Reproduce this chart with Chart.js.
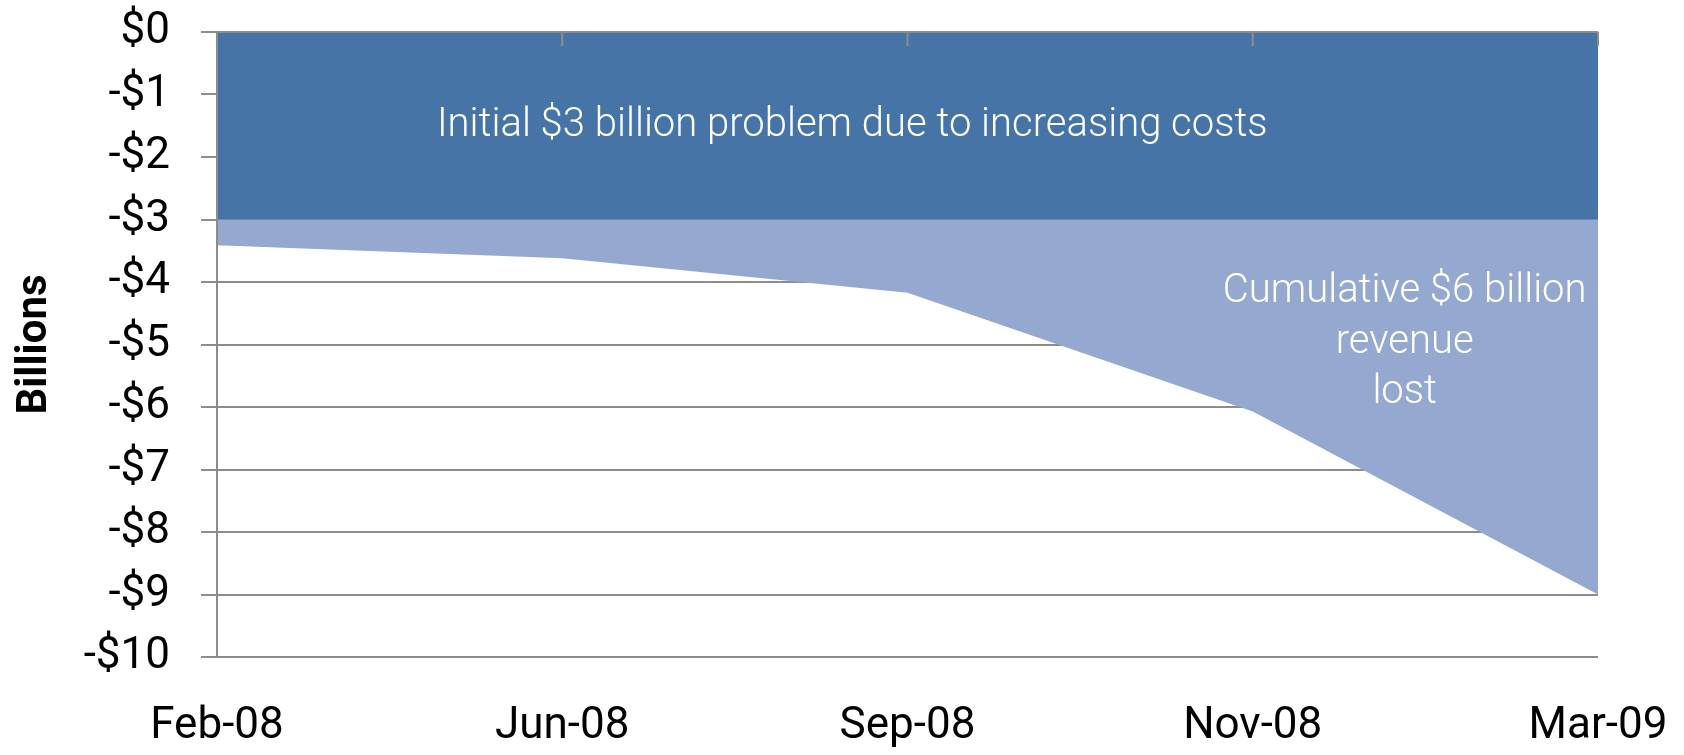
<!DOCTYPE html>
<html lang="en">
<head>
<meta charset="UTF-8">
<title>Budget problem</title>
<script src="https://cdn.jsdelivr.net/npm/chart.js"></script>
<style>
  html, body { margin: 0; padding: 0; background: #fff; }
  #wrap { width: 1684px; height: 755px; }
</style>
</head>
<body>
<div id="wrap"><canvas id="grafico"></canvas></div>

<script>
  // dados (bilhoes)
  var meses = ['Feb-08', 'Jun-08', 'Sep-08', 'Nov-08', 'Mar-09'];
  var problemaInicial = [-3, -3, -3, -3, -3];
  var receitaPerdida = [-0.41, -0.62, -1.17, -3.07, -6.0];
  var rotulosY = ['$0', '-$1', '-$2', '-$3', '-$4', '-$5', '-$6', '-$7', '-$8', '-$9', '-$10'];
  var textoCustos = ['Initial $3 billion problem due to increasing costs'];
  var textoReceita = ['Cumulative $6 billion', 'revenue', 'lost'];

  var cinza = '#8c8c8c';

  // linha do eixo no topo, marquinhas e textos
  var extras = {
    id: 'extras',
    afterDatasetsDraw: function (chart) {
      var ctx = chart.ctx;
      var x = chart.scales.x;
      var y = chart.scales.y;
      var area = chart.chartArea;
      var topo = y.getPixelForValue(0);

      ctx.save();
      ctx.strokeStyle = cinza;
      ctx.lineWidth = 2;
      ctx.beginPath();
      ctx.moveTo(area.left - 16, topo);
      ctx.lineTo(area.right, topo);
      ctx.moveTo(area.left, topo);
      ctx.lineTo(area.left, area.bottom);
      for (var i = 1; i < meses.length; i++) {
        var px = x.getPixelForValue(i);
        ctx.moveTo(px, topo);
        ctx.lineTo(px, topo + 14);
      }
      ctx.stroke();

      ctx.fillStyle = '#ffffff';
      ctx.font = '300 40px Roboto';
      ctx.textAlign = 'center';
      ctx.textBaseline = 'middle';
      ctx.fillText(textoCustos[0], x.getPixelForValue(1.84), y.getPixelForValue(-1.5));

      var cx = x.getPixelForValue(3.44);
      for (var j = 0; j < textoReceita.length; j++) {
        ctx.fillText(textoReceita[j], cx, y.getPixelForValue(-4.16 - j * 0.81));
      }
      ctx.restore();
    }
  };

  var config = {
    type: 'line',
    data: {
      labels: meses,
      datasets: [{
        label: 'Initial problem',
        data: problemaInicial,
        backgroundColor: '#4674a7',
        borderWidth: 0,
        pointRadius: 0,
        fill: 'origin'
      }, {
        label: 'Revenue lost',
        data: receitaPerdida,
        backgroundColor: '#95a9d0',
        borderWidth: 0,
        pointRadius: 0,
        fill: '-1'
      }]
    },
    options: {
      responsive: true,
      maintainAspectRatio: false,
      animation: false,
      layout: { padding: { top: 32, right: 86, bottom: 0, left: 0 } },
      plugins: {
        legend: { display: false },
        tooltip: { enabled: false }
      },
      scales: {
        x: {
          stacked: true,
          offset: false,
          afterFit: function (s) {
            s.height = 98;
            s.paddingLeft = 0;
            s.paddingRight = 0;
          },
          grid: { display: false, drawTicks: false },
          border: { display: false },
          ticks: {
            padding: 44,
            color: '#000',
            maxRotation: 0,
            autoSkip: false,
            font: { family: 'Roboto', size: 44 }
          }
        },
        y: {
          stacked: true,
          min: -10,
          max: 0,
          afterFit: function (s) {
            s.width = 217;
            s.paddingTop = 0;
            s.paddingBottom = 0;
          },
          grid: { color: cinza, lineWidth: 2, tickLength: 16 },
          border: { color: cinza, width: 2 },
          ticks: {
            stepSize: 1,
            padding: 31,
            autoSkip: false,
            color: '#000',
            font: { family: 'Roboto', size: 44 },
            callback: function (v) { return rotulosY[-v]; }
          },
          title: {
            display: true,
            text: 'Billions',
            color: '#000',
            font: { family: 'Roboto', size: 42, weight: 'bold' },
            padding: { top: 10, bottom: 0 }
          }
        }
      }
    },
    plugins: [extras]
  };

  new Chart(document.getElementById('grafico'), config);
</script>
</body>
</html>
